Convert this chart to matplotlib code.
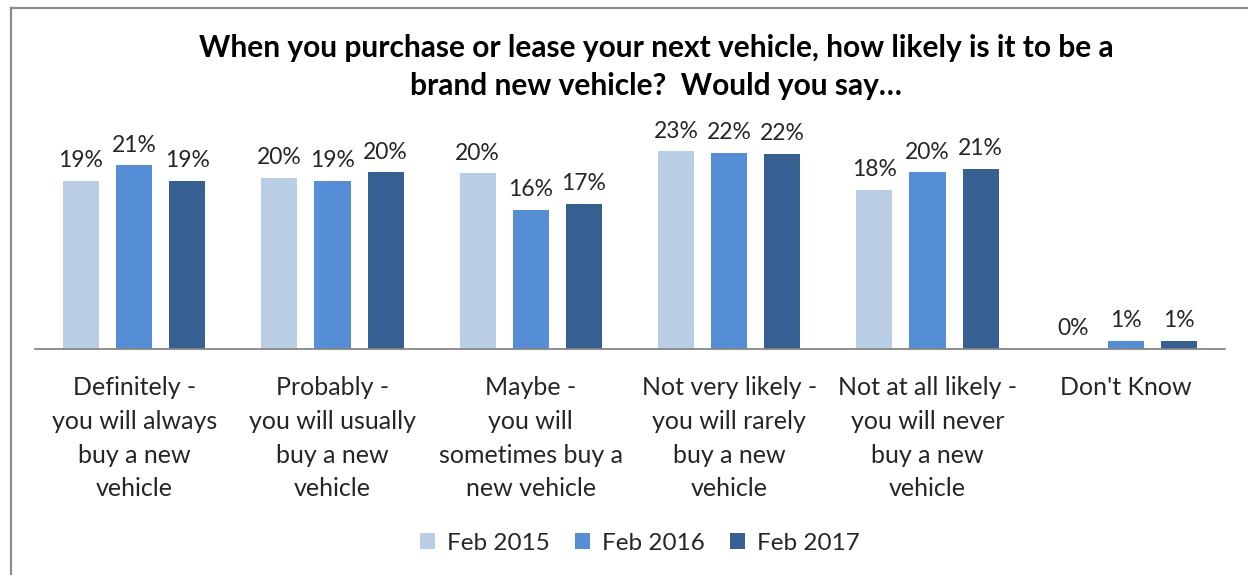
import matplotlib
matplotlib.use("Agg")
import matplotlib.pyplot as plt
from matplotlib.lines import Line2D
from matplotlib.patches import Patch
import numpy as np

categories = [
    "Definitely -\nyou will always\nbuy a new\nvehicle",
    "Probably -\nyou will usually\nbuy a new\nvehicle",
    "Maybe -\nyou will\nsometimes buy a\nnew vehicle",
    "Not very likely -\nyou will rarely\nbuy a new\nvehicle",
    "Not at all likely -\nyou will never\nbuy a new\nvehicle",
    "Don't Know",
]
series_names = ["Feb 2015", "Feb 2016", "Feb 2017"]
feb2015 = [19.2, 19.6, 20.1, 22.6, 18.2, 0.0]
feb2016 = [21.0, 19.2, 15.9, 22.4, 20.2, 0.9]
feb2017 = [19.2, 20.2, 16.6, 22.3, 20.6, 0.9]
colors = ["#B9CDE5", "#558ED5", "#376092"]

title = "When you purchase or lease your next vehicle, how likely is it to be a\nbrand new vehicle?  Would you say\u2026"

W, H = 1248, 575
fig = plt.figure(figsize=(W / 100, H / 100), dpi=100)
ax = fig.add_axes([35 / W, 1 - 348.5 / H, 1190 / W, 218 / H])

x = np.arange(len(categories))
pitch = 0.268
width = 0.182
all_series = [feb2015, feb2016, feb2017]
for i, (vals, col, name) in enumerate(zip(all_series, colors, series_names)):
    pos = x + (i - 1) * pitch
    ax.bar(pos, vals, width=width, color=col, label=name, zorder=2)
    for xp, v in zip(pos, vals):
        ax.annotate(f"{round(v):d}%", (xp, v), xytext=(0, 7), textcoords="offset points",
                    ha="center", va="bottom", fontsize=16.5, color="#262626",
                    family="Lato")

ax.set_xlim(-0.5, len(categories) - 0.5)
ax.set_ylim(0, 25)
for s in ["top", "right", "left"]:
    ax.spines[s].set_visible(False)
ax.spines["bottom"].set_color("#868686")
ax.spines["bottom"].set_linewidth(1.3)
ax.set_yticks([])
ax.set_xticks(x)
ax.set_xticklabels(categories, fontsize=18, color="#262626", family="Lato", linespacing=1.56)
ax.tick_params(axis="x", length=0, pad=20)

fig.text(656 / W, 1 - 67 / H, title, ha="center", va="center", fontsize=21.5,
         fontweight="bold", family="Lato", color="black", linespacing=1.45)

handles = [Patch(facecolor=c, edgecolor="none") for c in colors]
leg = fig.legend(handles, series_names, loc="center", bbox_to_anchor=(640 / W, 1 - 543 / H),
                 ncol=3, frameon=False, prop={"family": "Lato", "size": 17.5},
                 handlelength=0.6, handleheight=0.6, handletextpad=0.5, columnspacing=1.05)
for t in leg.get_texts():
    t.set_color("#262626")

fig.add_artist(Line2D([11 / W, 1], [1 - 8 / H, 1 - 8 / H], color="#8C8C8C", lw=1.6,
                      transform=fig.transFigure))
fig.add_artist(Line2D([11 / W, 11 / W], [0, 1 - 8 / H], color="#8C8C8C", lw=1.6,
                      transform=fig.transFigure))

fig.savefig("out.png", dpi=100, facecolor="white")
